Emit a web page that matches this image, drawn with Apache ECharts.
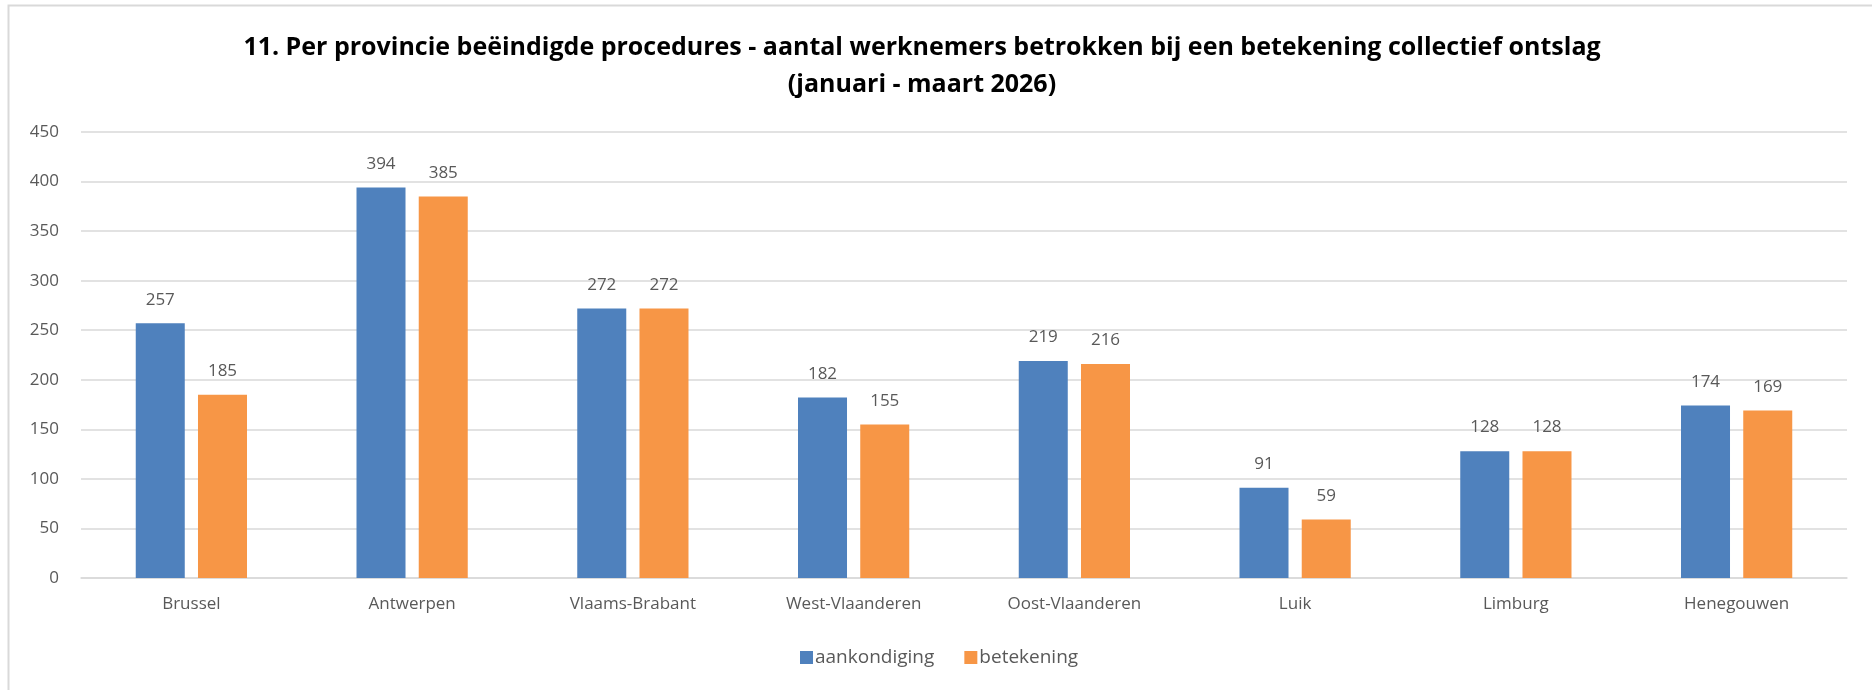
<!DOCTYPE html>
<html lang="nl">
<head>
    <meta charset="UTF-8">
    <title>Beëindigde procedures per provincie</title>
    <script src="https://cdn.jsdelivr.net/npm/echarts@6/dist/echarts.min.js"></script>
    <style>
        html, body { margin: 0; padding: 0; background: #fff; }
        #main { width: 1872px; height: 690px; }
    </style>
</head>
<body>
<div id="main"></div>
<script>
    // data
    var provincies = ['Brussel', 'Antwerpen', 'Vlaams-Brabant', 'West-Vlaanderen', 'Oost-Vlaanderen', 'Luik', 'Limburg', 'Henegouwen'];
    var aankondiging = [257, 394, 272, 182, 219, 91, 128, 174];
    var betekening = [185, 385, 272, 155, 216, 59, 128, 169];
    var seriesNames = ['aankondiging', 'betekening'];

    var txtColor = '#595959';
    var font = '"Open Sans", "Noto Sans", sans-serif';

    var myChart = echarts.init(document.getElementById('main'));
    var option = {
        backgroundColor: '#fff',
        title: {
            text: '11. Per provincie beëindigde procedures - aantal werknemers betrokken bij een betekening collectief ontslag\n(januari - maart 2026)',
            left: 917,
            textAlign: 'center',
            top: 24,
            textStyle: {
                fontFamily: font,
                fontWeight: 'bold',
                fontSize: 25,
                lineHeight: 37,
                color: '#000'
            }
        },
        graphic: [{
            type: 'rect',
            shape: {x: 8.5, y: 5.5, width: 1900, height: 700},
            style: {fill: 'none', stroke: '#d9d9d9', lineWidth: 2},
            silent: true
        }],
        legend: {
            data: seriesNames,
            left: 795,
            top: 643,
            itemWidth: 13,
            itemHeight: 13,
            itemGap: 30,
            icon: 'rect',
            textStyle: {fontFamily: font, fontSize: 19, color: txtColor, padding: [0, 0, 0, -3]}
        },
        grid: {
            left: 81,
            right: 25,
            top: 132,
            bottom: 112
        },
        xAxis: {
            type: 'category',
            data: provincies,
            axisTick: {show: false},
            axisLine: {lineStyle: {color: '#d9d9d9', width: 1.5}},
            axisLabel: {fontFamily: font, fontSize: 17, color: txtColor, margin: 18}
        },
        yAxis: {
            type: 'value',
            min: 0,
            max: 450,
            interval: 50,
            axisLine: {show: false},
            axisTick: {show: false},
            splitLine: {lineStyle: {color: '#d9d9d9', width: 1.5}},
            axisLabel: {fontFamily: font, fontSize: 17, color: txtColor, margin: 22}
        },
        series: [
            {
                name: seriesNames[0],
                type: 'bar',
                data: aankondiging,
                barWidth: '22.2%',
                barGap: '27%',
                itemStyle: {color: '#4f81bd'},
                label: {show: true, position: 'top', distance: 15, fontFamily: font, fontSize: 17, color: txtColor}
            },
            {
                name: seriesNames[1],
                type: 'bar',
                data: betekening,
                barWidth: '22.2%',
                itemStyle: {color: '#f79646'},
                label: {show: true, position: 'top', distance: 15, fontFamily: font, fontSize: 17, color: txtColor}
            }
        ]
    };
    myChart.setOption(option);
</script>
</body>
</html>
